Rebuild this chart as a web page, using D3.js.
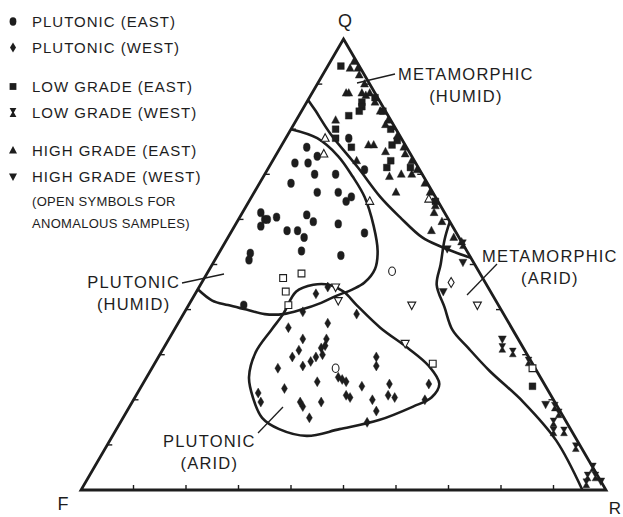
<!DOCTYPE html>
<html>
<head>
<meta charset="utf-8">
<script src="https://cdn.jsdelivr.net/npm/d3@7"></script>
<style>
  body { margin: 0; background: #fff; }
  svg text { font-family: "Liberation Sans", Arial, sans-serif; fill: #1d1d1d; }
</style>
</head>
<body>
<div id="chart"></div>
<script>
// every sample is [Q, F, R] in percent
const plutonicEast = [[76,19,5],[74,18,8],[72.5,23,4.5],[72.5,20.5,7],[68,26,6],[70,20.5,9.5],[70,16.5,13.5],
  [66,22,12],[66,18,16],[64,17.5,18.5],[65,16,19],[61.5,35,3.5],[60,35,5],[58.5,36.5,5],[60,34.5,5.5],
  [60.5,32.5,7],[61,26.5,12.5],[59.5,26,14.5],[59,21.5,19.5],[57.5,32,10.5],[57.5,30,12.5],[56,29.5,14.5],
  [57,17.5,25.5],[53,31.5,15.5],[52.5,41.5,6],[51,42.5,6.5],[52,24.5,23.5],[41,48.5,10.5],[78,10,12],[71,10.5,18.5]];
const plutonicWest = [[39.5,38,22.5],[43.5,33.5,23],[45,30.5,24.5],[36,42.5,21.5],[37,34.5,28.5],[39,28,33],
  [33.5,41,25.5],[31,43,26],[33.5,36.5,30],[31.5,38.5,30],[30,39,31],[29.5,45,25.5],[27.5,44,28.5],[28.5,42,29.5],
  [29.5,29,41.5],[27.5,30,42.5],[27,49,24],[25,38.5,36.5],[24.5,38,37.5],[24,37.5,38.5],[24,43,33],[23,35,42],
  [23.5,29.5,47],[22.5,50,27.5],[21.5,55.5,23],[21,39,40],[20.5,38.5,41],[21,31,48],[20.5,30,49.5],[23.5,22,54.5],
  [20,24.5,55.5],[19.5,48.5,32],[18.5,48.5,33],[19.5,44.5,36],[20,34.5,45.5],[19.5,56,24.5],[17.5,35,47.5],
  [16,48.5,35.5],[15,38,47],[32,37.5,30.5],[29.5,40.5,30]];
const lowGradeEast = [[94,3.5,2.5],[86,3.5,10.5],[85,4,11],[84,5,11],[83,7.5,9.5],[80,11.5,8.5],[78,12.5,9.5],
  [76,10.5,13.5],[87,0.5,12.5],[76.5,2.5,21],[73,4.5,22.5],[71.5,6,22.5],[71.5,1.5,27],[64,0.5,35.5],
  [23,2.5,74.5],[84,0.5,15.5],[80,1,19],[77.5,1,21.5]];
const lowGradeWest = [[31.5,4,64.5],[30.5,2.5,67],[28.5,0.5,71],[18.5,0.5,81],[17,0.5,82.5],[15,2.5,82.5],
  [13,3.5,83.5],[13,1.5,85.5],[9.5,1,89.5],[5,0,95],[3,0.5,96.5],[3,2,95],[1.5,3,95.5],[54.5,0,45.5]];
const highGradeEast = [[93.5,2,4.5],[95,0.5,4.5],[93.5,0.5,6],[92,1,7],[88,5.5,6.5],[88,5,7],[88,2.5,9.5],
  [87.5,2,10.5],[88,1,11],[86,1,13],[84,1,15],[82,10.5,7.5],[76.5,7,16.5],[76.5,6,17.5],[73,11,16],[75,4.5,20.5],
  [69.5,6.5,24],[70,4,26],[66,7,27],[70,2,28],[68,0.5,31.5],[66,0.5,33.5],[61.5,2,36.5],[57.5,4.5,38],[56,1,43],
  [55,0,45],[82,0.5,17.5],[78.5,0.5,21],[76,0.5,23.5],[73,0.5,26.5],[71,0.5,28.5],[90,1,9],[81,1.5,17.5],
  [74.5,1,24.5],[63,1,36],[59.5,1.5,39]];
const highGradeWest = [[53.5,3.5,43],[50.5,2,47.5],[44,9,47],[33.5,3,63.5],[19,2,79],[2,0,98]];

// anomalous samples (open symbols)
const openPlutonicEast = [[48.5,16.5,35],[27,38,35]];
const openPlutonicWest = [[46,6.5,47.5]];
const openLowGradeEast = [[47,38,15],[48,34,18],[44,39,17],[41,40,19],[28,19,53],[27,0.5,72.5]];
const openHighGradeEast = [[78,14.5,7.5],[74.5,16.5,9],[64,13,23],[64.5,1.5,34]];
const openHighGradeWest = [[42,30,28],[41,16.5,42.5],[32.5,22,45.5],[41,4,55],[45,29,26]];

// field boundaries
const metaHumidLine = [[86.5,13.5,0],[84.3,13.3,2.4],[79,13,8],[71.5,11.5,17],[65,10.5,24.5],[60.5,9,30.5],
  [56,7,37],[54,4.5,41.5],[52.5,2,45.5],[51.5,0,48.5]];
const plutonicHumidLine = [[80,20,0],[78,16,6],[74,14,12],[69.5,13.5,17],[65,13.5,21.5],[58.5,15,26.5],[53,17,30],
  [49,19.5,31.5],[46,23,31],[44.5,26,29.5],[43,30,27],[41.5,33.5,25],[40,38,22],[39,42,19],[39,45.5,15.5],
  [40,48.5,11.5],[41,51.5,7.5],[42,54,4],[44.5,55.5,0]];
const plutonicAridLoop = [[35.5,46,18.5],[39,42,19],[44,37,19],[45.5,33,21.5],[45.5,30,24.5],[44,28,28],[41,27,32],
  [36,25,39],[31.5,22,46.5],[27.5,20,52.5],[23.5,20,56.5],[20.5,23,56.5],[18.5,27.5,54],[15.5,35.5,49],
  [13.5,44,42.5],[12,51,37],[13.5,55.5,31],[16,57.5,26.5],[20.5,57,22.5],[25,55.5,19.5],[30.5,51.5,18]];
const metaAridLine = [[59.5,0,40.5],[55.5,3,41.5],[50,6.5,43.5],[45.5,9.5,45],[40.5,10.5,49],[35.5,11.5,53],
  [31.5,10.5,58],[26.5,9,64.5],[19.5,6,74.5],[11,4,85],[0,4.5,95.5]];

const tickSteps = [10,20,30,40,50,60,70,80,90];
const legendLabels = ["PLUTONIC (EAST)","PLUTONIC (WEST)","LOW GRADE (EAST)","LOW GRADE (WEST)",
  "HIGH GRADE (EAST)","HIGH GRADE (WEST)"];
const legendNote = ["(OPEN SYMBOLS FOR","ANOMALOUS SAMPLES)"];

const width = 623, height = 517;
const ink = "#1d1d1d";

const svg = d3.select("#chart").append("svg")
    .attr("width", width)
    .attr("height", height);

const xScale = d3.scaleLinear().domain([0,100]).range([81,606]);
const yScale = d3.scaleLinear().domain([0,100]).range([490,39]);
const px = d => xScale(d[2] + d[0]/2);
const py = d => yScale(d[0]);

// symbol outlines centred on 0,0
const shapes = {
  circle: "M0,-4.2A3.4,4.2 0 1,1 0,4.2A3.4,4.2 0 1,1 0,-4.2Z",
  diamond: "M0,-5L3,0L0,5L-3,0Z",
  square: "M-3.4,-3.4H3.4V3.4H-3.4Z",
  hourglass: "M-3.4,-4.4H3.4L0.9,0L3.4,4.4H-3.4L-0.9,0Z",
  up: "M0,-4.5L4,3H-4Z",
  down: "M0,4.5L4,-3H-4Z"
};

// triangle frame
const corners = [[100,0,0],[0,0,100],[0,100,0]];
svg.append("path")
    .attr("d", "M" + corners.map(c => px(c) + "," + py(c)).join("L") + "Z")
    .attr("fill", "none")
    .attr("stroke", ink)
    .attr("stroke-width", 2.8)
    .attr("stroke-linejoin", "miter");

// small inward ticks every 10%
const ticks = svg.append("g").attr("stroke", ink).attr("stroke-width", 1.4);
tickSteps.forEach(t => {
  const b = [0,100-t,t], l = [t,100-t,0], r = [t,0,100-t];
  ticks.append("line").attr("x1", px(b)).attr("y1", py(b)).attr("x2", px(b)).attr("y2", py(b) - 5);
  ticks.append("line").attr("x1", px(l)).attr("y1", py(l)).attr("x2", px(l) + 5).attr("y2", py(l));
  ticks.append("line").attr("x1", px(r)).attr("y1", py(r)).attr("x2", px(r) - 5).attr("y2", py(r));
});

// boundaries
const line = d3.line().x(px).y(py).curve(d3.curveCatmullRom.alpha(0.5));
const loop = d3.line().x(px).y(py).curve(d3.curveCatmullRomClosed.alpha(0.5));
[metaHumidLine, plutonicHumidLine, metaAridLine].forEach(pts => {
  svg.append("path").attr("d", line(pts))
      .attr("fill", "none").attr("stroke", ink).attr("stroke-width", 2.6);
});
svg.append("path").attr("d", loop(plutonicAridLoop))
    .attr("fill", "none").attr("stroke", ink).attr("stroke-width", 2.6);

// samples
const series = [
  {data: plutonicEast, shape: "circle", open: false},
  {data: plutonicWest, shape: "diamond", open: false},
  {data: lowGradeEast, shape: "square", open: false},
  {data: lowGradeWest, shape: "hourglass", open: false},
  {data: highGradeEast, shape: "up", open: false},
  {data: highGradeWest, shape: "down", open: false},
  {data: openPlutonicEast, shape: "circle", open: true},
  {data: openPlutonicWest, shape: "diamond", open: true},
  {data: openLowGradeEast, shape: "square", open: true},
  {data: openHighGradeEast, shape: "up", open: true},
  {data: openHighGradeWest, shape: "down", open: true}
];
series.forEach(s => {
  svg.append("g").selectAll("path")
    .data(s.data)
    .join("path")
      .attr("d", shapes[s.shape])
      .attr("transform", d => `translate(${px(d)},${py(d)})`)
      .attr("fill", s.open ? "#fff" : ink)
      .attr("stroke", ink)
      .attr("stroke-width", s.open ? 1.1 : 0.4);
});

// corner letters
svg.append("text").attr("x", 345).attr("y", 27).attr("text-anchor", "middle")
    .style("font-size", "18px").text("Q");
svg.append("text").attr("x", 63).attr("y", 510).attr("text-anchor", "middle")
    .style("font-size", "18px").text("F");
svg.append("text").attr("x", 615).attr("y", 514).attr("text-anchor", "middle")
    .style("font-size", "17px").text("R");

// field labels with leaders
function fieldLabel(x, y, a, b, anchor) {
  const g = svg.append("g").style("font-size", "16.5px").style("letter-spacing", "1.2px");
  const t1 = g.append("text").attr("x", x).attr("y", y).attr("text-anchor", anchor).text(a);
  const w = t1.node().getComputedTextLength();
  const cx = anchor === "start" ? x + w/2 : anchor === "end" ? x - w/2 : x;
  g.append("text").attr("x", cx).attr("y", y + 22).attr("text-anchor", "middle").text(b);
}
fieldLabel(398, 80, "METAMORPHIC", "(HUMID)", "start");
fieldLabel(482, 262, "METAMORPHIC", "(ARID)", "start");
fieldLabel(180, 288, "PLUTONIC", "(HUMID)", "end");
fieldLabel(163, 447, "PLUTONIC", "(ARID)", "start");

const leaders = svg.append("g").attr("stroke", ink).attr("stroke-width", 1.3);
[[357,83,395,74],[467,295,497,264],[182,283,224,274],[258,433,283,407]].forEach(l => {
  leaders.append("line").attr("x1", l[0]).attr("y1", l[1]).attr("x2", l[2]).attr("y2", l[3]);
});

// legend
const legendShapes = ["circle","diamond","square","hourglass","up","down"];
const legendY = [27,53,92,118,156,182];
const legend = svg.append("g");
legendLabels.forEach((lab, i) => {
  legend.append("path").attr("d", shapes[legendShapes[i]])
      .attr("transform", `translate(13,${legendY[i] - 5.5})`)
      .attr("fill", ink);
  legend.append("text").attr("x", 32).attr("y", legendY[i])
      .style("font-size", "15px").style("letter-spacing", "1px").text(lab);
});
legendNote.forEach((lab, i) => {
  legend.append("text").attr("x", 32).attr("y", 206 + i * 22)
      .style("font-size", "13px").style("letter-spacing", "0.3px").text(lab);
});
</script>
</body>
</html>
